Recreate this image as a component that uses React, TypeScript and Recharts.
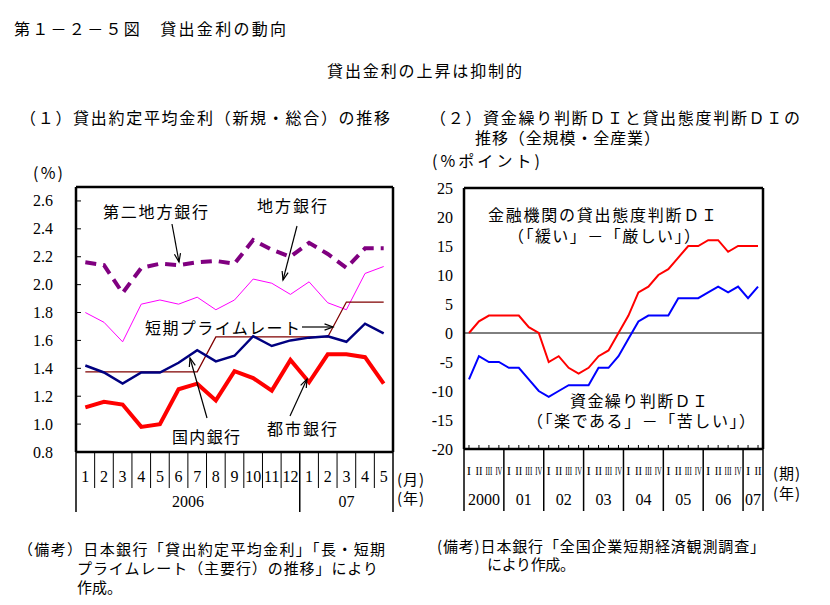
import { LineChart, Line, XAxis, YAxis, ReferenceLine } from "recharts";

// ---- (1) 貸出約定平均金利 ----
const months = ["1", "2", "3", "4", "5", "6", "7", "8", "9", "10", "11", "12", "1", "2", "3", "4", "5"];
const monthYears = [
  { label: "2006", start: 0, count: 12 },
  { label: "07", start: 12, count: 5 },
];
const toshiGinko = [1.12, 1.16, 1.14, 0.98, 1.0, 1.25, 1.29, 1.17, 1.38, 1.33, 1.24, 1.46, 1.3, 1.5, 1.5, 1.48, 1.29];
const kokunaiGinko = [1.42, 1.37, 1.29, 1.37, 1.37, 1.44, 1.53, 1.45, 1.49, 1.63, 1.56, 1.6, 1.62, 1.63, 1.59, 1.72, 1.65];
const chihoGinko = [1.8, 1.73, 1.59, 1.86, 1.89, 1.86, 1.91, 1.82, 1.89, 2.04, 2.01, 1.93, 2.02, 1.87, 1.82, 2.08, 2.13];
const dainiChihoGinko = [2.16, 2.14, 1.94, 2.12, 2.15, 2.14, 2.16, 2.17, 2.15, 2.32, 2.25, 2.2, 2.3, 2.22, 2.12, 2.26, 2.26];
const primeRate = [1.375, 1.375, 1.375, 1.375, 1.375, 1.375, 1.375, 1.625, 1.625, 1.625, 1.625, 1.625, 1.625, 1.625, 1.875, 1.875, 1.875];
const rateTicks = [0.8, 1.0, 1.2, 1.4, 1.6, 1.8, 2.0, 2.2, 2.4, 2.6];

// ---- (2) 資金繰り判断DI・貸出態度判断DI ----
const quarters = [
  "I", "II", "III", "IV", "I", "II", "III", "IV", "I", "II", "III", "IV", "I", "II", "III", "IV",
  "I", "II", "III", "IV", "I", "II", "III", "IV", "I", "II", "III", "IV", "I", "II",
];
const quarterYears = [
  { label: "2000", start: 0, count: 4 },
  { label: "01", start: 4, count: 4 },
  { label: "02", start: 8, count: 4 },
  { label: "03", start: 12, count: 4 },
  { label: "04", start: 16, count: 4 },
  { label: "05", start: 20, count: 4 },
  { label: "06", start: 24, count: 4 },
  { label: "07", start: 28, count: 2 },
];
const kashidashiDI = [0, 2, 3, 3, 3, 3, 1, 0, -5, -4, -6, -7, -6, -4, -3, 0, 3, 7, 8, 10, 11, 13, 15, 15, 16, 16, 14, 15, 15, 15];
const shikinguriDI = [-8, -4, -5, -5, -6, -6, -8, -10, -11, -10, -9, -9, -9, -6, -6, -4, -1, 2, 3, 3, 3, 6, 6, 6, 7, 8, 7, 8, 6, 8];
const diTicks = [-20, -15, -10, -5, 0, 5, 10, 15, 20, 25];

const TEXT_FONT = '"Noto Sans CJK JP", "Noto Sans", sans-serif';
const NUM_FONT = '"Liberation Serif", "DejaVu Serif", serif';

const rateData = months.map((m, i) => ({
  m,
  toshi: toshiGinko[i],
  kokunai: kokunaiGinko[i],
  chiho: chihoGinko[i],
  daini: dainiChihoGinko[i],
  prime: primeRate[i],
}));

const diData = quarters.map((q, i) => ({
  q,
  kashi: kashidashiDI[i],
  shikin: shikinguriDI[i],
}));

// left chart geometry (chart coords)
const L_W = 440, L_H = 390;
const L_LEFT = 76, L_RIGHT = 393, L_TOP = 47, L_BOTTOM = 312;
const L_BW = (L_RIGHT - L_LEFT) / months.length;

// right chart geometry (chart coords)
const R_W = 410, R_H = 390;
const R_LEFT = 44, R_RIGHT = 343, R_TOP = 48, R_BOTTOM = 309;
const R_BW = (R_RIGHT - R_LEFT) / quarters.length;

const frame = { stroke: "#000", strokeWidth: 2.5 };

function yearLabelAt(groups: { label: string; start: number; count: number }[], i: number, bw: number) {
  for (const g of groups) {
    const mid = Math.floor((g.count - 1) / 2);
    if (i === g.start + mid) return { label: g.label, dx: ((g.count - 1) / 2 - mid) * bw };
  }
  return null;
}

const MonthTick = (props: any) => {
  const { x, index } = props;
  const i = index as number;
  const yl = yearLabelAt(monthYears, i, L_BW);
  const isYearEnd = monthYears.some((g) => g.start + g.count - 1 === i);
  return (
    <g>
      <text x={x} y={L_BOTTOM + 24} textAnchor="middle" dominantBaseline="central" fontFamily={NUM_FONT} fontSize={16} fill="#000">
        {months[i]}
      </text>
      {i === 0 && <line x1={x - L_BW / 2} x2={x - L_BW / 2} y1={L_BOTTOM} y2={L_BOTTOM + 60} stroke="#000" strokeWidth={1.5} />}
      <line x1={x + L_BW / 2} x2={x + L_BW / 2} y1={L_BOTTOM} y2={isYearEnd ? L_BOTTOM + 60 : L_BOTTOM + 36} stroke="#000" strokeWidth={isYearEnd ? 1.5 : 1} />
      {yl && (
        <text x={x + yl.dx} y={L_BOTTOM + 49} textAnchor="middle" dominantBaseline="central" fontFamily={NUM_FONT} fontSize={16} fill="#000">
          {yl.label}
        </text>
      )}
    </g>
  );
};

const RateYTick = (props: any) => {
  const { y, payload } = props;
  return (
    <g>
      <text x={L_LEFT - 23} y={y} textAnchor="end" dominantBaseline="central" fontFamily={NUM_FONT} fontSize={16} fill="#000">
        {Number(payload.value).toFixed(1)}
      </text>
      <line x1={L_LEFT} x2={L_LEFT + 5} y1={y} y2={y} stroke="#000" strokeWidth={1} />
    </g>
  );
};

const QuarterTick = (props: any) => {
  const { x, index } = props;
  const i = index as number;
  const q = quarters[i];
  const yl = yearLabelAt(quarterYears, i, R_BW);
  const isYearStart = quarterYears.some((g) => g.start === i);
  const isLast = i === quarters.length - 1;
  return (
    <g>
      <line x1={x} x2={x} y1={R_BOTTOM} y2={R_BOTTOM - 4} stroke="#000" strokeWidth={1} />
      <text
        x={x}
        y={R_BOTTOM + 21}
        textAnchor="middle"
        dominantBaseline="central"
        fontFamily={NUM_FONT}
        fontSize={13}
        fill="#000"
        {...(q.length > 1 ? { textLength: 7, lengthAdjust: "spacingAndGlyphs" } : {})}
      >
        {q}
      </text>
      {isYearStart && <line x1={x - R_BW / 2} x2={x - R_BW / 2} y1={R_BOTTOM} y2={R_BOTTOM + 62} stroke="#000" strokeWidth={1.5} />}
      {isLast && <line x1={x + R_BW / 2} x2={x + R_BW / 2} y1={R_BOTTOM} y2={R_BOTTOM + 62} stroke="#000" strokeWidth={1.5} />}
      {yl && (
        <text x={x + yl.dx} y={R_BOTTOM + 50} textAnchor="middle" dominantBaseline="central" fontFamily={NUM_FONT} fontSize={16} fill="#000">
          {yl.label}
        </text>
      )}
    </g>
  );
};

const DIYTick = (props: any) => {
  const { y, payload } = props;
  return (
    <text x={R_LEFT - 11} y={y} textAnchor="end" dominantBaseline="central" fontFamily={NUM_FONT} fontSize={16} fill="#000">
      {payload.value}
    </text>
  );
};

function T({ x, y, w, size = 16, children }: { x: number; y: number; w?: number; size?: number; children: string }) {
  return (
    <text
      x={x}
      y={y}
      fontFamily={TEXT_FONT}
      fontSize={size}
      dominantBaseline="central"
      fill="#000"
      {...(w ? { textLength: w, lengthAdjust: "spacing" } : {})}
    >
      {children}
    </text>
  );
}

function Arrow({ x1, y1, x2, y2 }: { x1: number; y1: number; x2: number; y2: number }) {
  const a = Math.atan2(y2 - y1, x2 - x1);
  const len = 9, spread = 0.35;
  const p1 = [x2 - len * Math.cos(a - spread), y2 - len * Math.sin(a - spread)];
  const p2 = [x2 - len * Math.cos(a + spread), y2 - len * Math.sin(a + spread)];
  return (
    <g stroke="#000" strokeWidth={1.2} fill="none">
      <line x1={x1} y1={y1} x2={x2} y2={y2} />
      <polyline points={`${p1[0]},${p1[1]} ${x2},${y2} ${p2[0]},${p2[1]}`} />
    </g>
  );
}

export default function App() {
  return (
    <div style={{ position: "absolute", left: 0, top: 0, width: 830, height: 605, background: "#fff", overflow: "hidden" }}>
      <div style={{ position: "absolute", left: 0, top: 140 }}>
        <LineChart
          width={L_W}
          height={L_H}
          data={rateData}
          margin={{ top: L_TOP - 1, left: L_LEFT - 46, right: L_W - L_RIGHT - 1, bottom: L_H - L_BOTTOM - 60 }}
        >
          <XAxis
            dataKey="m"
            height={60}
            interval={0}
            tickLine={false}
            axisLine={frame}
            tick={<MonthTick />}
            padding={{ left: L_BW / 2, right: L_BW / 2 }}
          />
          <XAxis xAxisId="top" orientation="top" height={1} tick={false} tickLine={false} axisLine={frame} />
          <YAxis
            type="number"
            domain={[0.8, 2.7]}
            ticks={rateTicks}
            interval={0}
            allowDataOverflow
            width={46}
            tickLine={false}
            axisLine={frame}
            tick={<RateYTick />}
          />
          <YAxis yAxisId="r" orientation="right" width={1} tick={false} tickLine={false} axisLine={frame} domain={[0, 1]} />
          <Line dataKey="chiho" stroke="#ff00ff" strokeWidth={1} dot={false} isAnimationActive={false} />
          <Line dataKey="daini" stroke="#800080" strokeWidth={4} strokeDasharray="11 7" dot={false} isAnimationActive={false} />
          <Line dataKey="prime" stroke="#800000" strokeWidth={1.3} dot={false} isAnimationActive={false} />
          <Line dataKey="kokunai" stroke="#000080" strokeWidth={2.5} dot={false} isAnimationActive={false} />
          <Line dataKey="toshi" stroke="#ff0000" strokeWidth={4} dot={false} isAnimationActive={false} />
        </LineChart>
      </div>

      <div style={{ position: "absolute", left: 420, top: 140 }}>
        <LineChart
          width={R_W}
          height={R_H}
          data={diData}
          margin={{ top: R_TOP - 1, left: R_LEFT - 40, right: R_W - R_RIGHT - 1, bottom: R_H - R_BOTTOM - 60 }}
        >
          <XAxis
            dataKey="q"
            height={60}
            interval={0}
            tickLine={false}
            axisLine={frame}
            tick={<QuarterTick />}
            padding={{ left: R_BW / 2, right: R_BW / 2 }}
          />
          <XAxis xAxisId="top" orientation="top" height={1} tick={false} tickLine={false} axisLine={frame} />
          <YAxis
            type="number"
            domain={[-20, 25]}
            ticks={diTicks}
            interval={0}
            allowDataOverflow
            width={40}
            tickLine={false}
            axisLine={frame}
            tick={<DIYTick />}
          />
          <YAxis yAxisId="r" orientation="right" width={1} tick={false} tickLine={false} axisLine={frame} domain={[0, 1]} />
          <ReferenceLine y={0} stroke="#000" strokeWidth={1} />
          <Line dataKey="shikin" stroke="#0000ff" strokeWidth={2} dot={false} isAnimationActive={false} />
          <Line dataKey="kashi" stroke="#ff0000" strokeWidth={2} dot={false} isAnimationActive={false} />
        </LineChart>
      </div>

      <svg width={830} height={605} style={{ position: "absolute", left: 0, top: 0, pointerEvents: "none" }}>
        <T x={14} y={28} w={272}>第１－２－５図　貸出金利の動向</T>
        <T x={327} y={70} w={195}>貸出金利の上昇は抑制的</T>
        <T x={20} y={117} w={370}>（１）貸出約定平均金利（新規・総合）の推移</T>
        <T x={430} y={117} w={370}>（２）資金繰り判断ＤＩと貸出態度判断ＤＩの</T>
        <T x={475} y={137} w={185}>推移（全規模・全産業）</T>
        <T x={33} y={172} w={30}>(%)</T>
        <T x={432} y={160} w={108}>(%ポイント)</T>

        <T x={397} y={478} w={27} size={15}>(月)</T>
        <T x={397} y={497} w={27} size={15}>(年)</T>
        <T x={773} y={472} w={27} size={15}>(期)</T>
        <T x={773} y={492} w={27} size={15}>(年)</T>

        <T x={103} y={211} w={105}>第二地方銀行</T>
        <Arrow x1={172} y1={224} x2={179} y2={262} />
        <T x={257} y={205} w={70}>地方銀行</T>
        <Arrow x1={297} y1={226} x2={283} y2={280} />
        <T x={145} y={327} w={155}>短期プライムレート</T>
        <Arrow x1={302} y1={327} x2={333} y2={327} />
        <T x={172} y={436} w={68}>国内銀行</T>
        <Arrow x1={207} y1={418} x2={190} y2={358} />
        <T x={267} y={428} w={70}>都市銀行</T>
        <Arrow x1={290} y1={416} x2={307} y2={379} />

        <T x={488} y={214} w={229}>金融機関の貸出態度判断ＤＩ</T>
        <T x={508} y={235} w={192}>（「緩い」－「厳しい」）</T>
        <T x={570} y={400} w={138}>資金繰り判断ＤＩ</T>
        <T x={527} y={420} w={228}>（「楽である」－「苦しい」）</T>

        <T x={18} y={548} w={367} size={15}>（備考）日本銀行「貸出約定平均金利」「長・短期</T>
        <T x={77} y={567} w={301} size={15}>プライムレート（主要行）の推移」により</T>
        <T x={77} y={586} w={45} size={15}>作成。</T>
        <T x={437} y={545} w={328} size={15}>(備考)日本銀行「全国企業短期経済観測調査」</T>
        <T x={487} y={563} w={88} size={15}>により作成。</T>
      </svg>
    </div>
  );
}
